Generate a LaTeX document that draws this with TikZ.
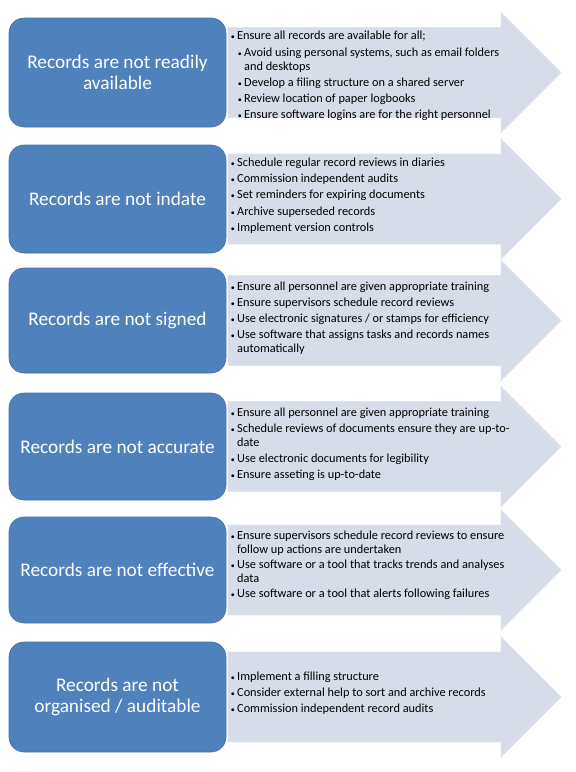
\documentclass[tikz,border=0pt]{standalone}
\usepackage{fontspec}
\setmainfont{Carlito}
\definecolor{boxblue}{RGB}{79,129,189}
\definecolor{boxedge}{RGB}{70,115,170}
\definecolor{arrowfill}{RGB}{214,220,232}
\definecolor{arrowedge}{RGB}{224,228,238}
\newcommand{\bul}{\llap{{\fontsize{8}{8}\selectfont\textbullet}\hspace{2.4pt}}}
\begin{document}
\begin{tikzpicture}[x=1pt,y=-1pt,
  probbox/.style={draw=boxedge,line width=0.6pt,fill=boxblue,rounded corners=15pt},
  probtext/.style={text=white,font=\fontsize{19.3}{21}\selectfont,align=center,inner sep=0pt},
  item/.style={anchor=base west,inner sep=0pt,font=\fontsize{12.3}{13}\selectfont},
  arrowshape/.style={fill=arrowfill,draw=arrowedge,line width=0.8pt}]
\useasboundingbox (0,0) rectangle (576,772);
\fill[white] (0,0) rectangle (576,772);
% arrows
\foreach \c in {72.5,199,320.5,446.5,570,697}{
  \draw[arrowshape] (228,\c-45) -- (501,\c-45) -- (501,\c-60) -- (561,\c) -- (501,\c+60) -- (501,\c+45) -- (228,\c+45) -- cycle;
}
% problem boxes
\draw[probbox] (9,18) rectangle (226,127);
\draw[probbox] (9,145) rectangle (226,253);
\draw[probbox] (9,268) rectangle (226,373);
\draw[probbox] (9,393) rectangle (226,500);
\draw[probbox] (9,517) rectangle (226,623);
\draw[probbox] (9,642) rectangle (226,752);
\node[probtext] (p1) at (117.5,72.5) {Records are not readily\\available};
\node[probtext] (p2) at (117.5,199) {Records are not indate};
\node[probtext] (p3) at (117.5,320.5) {Records are not signed};
\node[probtext] (p4) at (117.5,446.5) {Records are not accurate};
\node[probtext] (p5) at (117.5,570) {Records are not effective};
\node[probtext] (p6) at (117.5,697) {Records are not\\organised / auditable};
% box 1 items
\node[item] (a1) at (237,39) {\bul Ensure all records are available for all;};
\node[item] (a2) at (244,56) {\bul Avoid using personal systems, such as email folders};
\node[item] (a3) at (244,70) {and desktops};
\node[item] (a4) at (244,86) {\bul Develop a filing structure on a shared server};
\node[item] (a5) at (244,102) {\bul Review location of paper logbooks};
\node[item] (a6) at (244,118) {\bul Ensure software logins are for the right personnel};
% box 2 items
\node[item] (b1) at (237,166) {\bul Schedule regular record reviews in diaries};
\node[item] (b2) at (237,182) {\bul Commission independent audits};
\node[item] (b3) at (237,198) {\bul Set reminders for expiring documents};
\node[item] (b4) at (237,215) {\bul Archive superseded records};
\node[item] (b5) at (237,231) {\bul Implement version controls};
% box 3 items
\node[item] (c1) at (237,290) {\bul Ensure all personnel are given appropriate training};
\node[item] (c2) at (237,306) {\bul Ensure supervisors schedule record reviews};
\node[item] (c3) at (237,322) {\bul Use electronic signatures / or stamps for efficiency};
\node[item] (c4) at (237,338) {\bul Use software that assigns tasks and records names};
\node[item] (c5) at (237,352) {automatically};
% box 4 items
\node[item] (d1) at (237,416) {\bul Ensure all personnel are given appropriate training};
\node[item] (d2) at (237,432) {\bul Schedule reviews of documents ensure they are up-to-};
\node[item] (d3) at (237,446) {date};
\node[item] (d4) at (237,462) {\bul Use electronic documents for legibility};
\node[item] (d5) at (237,478) {\bul Ensure asseting is up-to-date};
% box 5 items
\node[item] (e1) at (237,539) {\bul Ensure supervisors schedule record reviews to ensure};
\node[item] (e2) at (237,553) {follow up actions are undertaken};
\node[item] (e3) at (237,568) {\bul Use software or a tool that tracks trends and analyses};
\node[item] (e4) at (237,582) {data};
\node[item] (e5) at (237,597) {\bul Use software or a tool that alerts following failures};
% box 6 items
\node[item] (f1) at (237,680) {\bul Implement a filling structure};
\node[item] (f2) at (237,696) {\bul Consider external help to sort and archive records};
\node[item] (f3) at (237,712) {\bul Commission independent record audits};
\end{tikzpicture}
\end{document}
